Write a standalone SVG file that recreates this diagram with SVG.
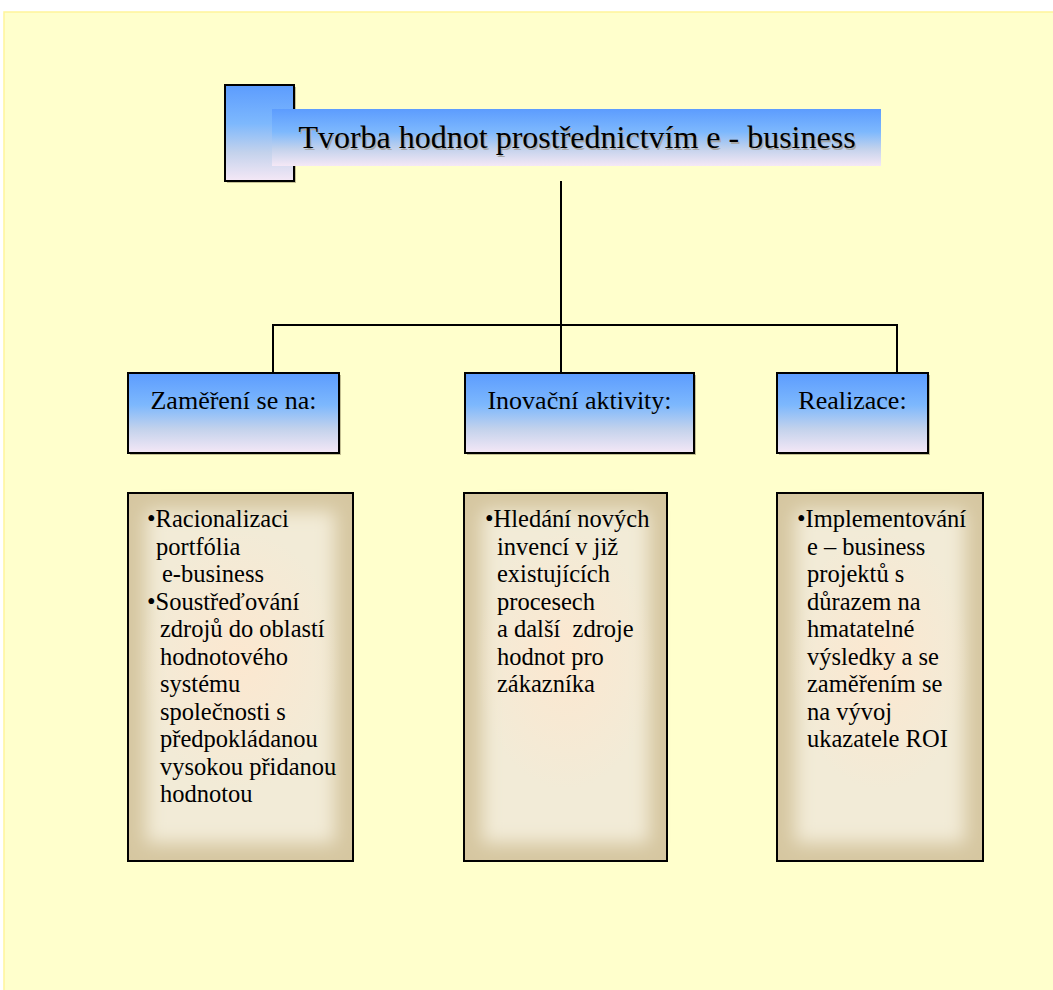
<svg xmlns="http://www.w3.org/2000/svg" width="1053" height="990" viewBox="0 0 1053 990">
  <style>
    .conn { stroke: #000; stroke-width: 2; fill: none; }
    .label { font-family: "Liberation Serif", "Times New Roman", serif; font-size: 26px; fill: #000; text-anchor: middle; }
    .title { font-family: "Liberation Serif", "Times New Roman", serif; font-size: 32px; fill: #000; text-anchor: middle; }
    .title-shadow { font-family: "Liberation Serif", "Times New Roman", serif; font-size: 32px; fill: #a8a8a8; text-anchor: middle; }
    .body { font-family: "Liberation Serif", "Times New Roman", serif; font-size: 24.5px; fill: #000; }
    .head-box { fill: url(#blueGrad); stroke: #000; stroke-width: 2; }
    .shadow { fill: #c4c092; }
    .card-frame { fill: #d6c7a1; stroke: #000; stroke-width: 2; }
    .card-glow { fill: #f2ebd7; filter: url(#soft); }
    .card-core { fill: url(#peach); }
  </style>
  <defs>
    <linearGradient id="blueGrad" x1="0" y1="0" x2="0" y2="1">
      <stop offset="0" stop-color="#5c9cfe"/>
      <stop offset="0.4" stop-color="#7db8fd"/>
      <stop offset="0.7" stop-color="#c3d2ec"/>
      <stop offset="1" stop-color="#f5e8f6"/>
    </linearGradient>
    <radialGradient id="peach" cx="0.5" cy="0.5" r="0.5">
      <stop offset="0" stop-color="#fde7cf" stop-opacity="0.9"/>
      <stop offset="1" stop-color="#fde7cf" stop-opacity="0"/>
    </radialGradient>
    <filter id="soft" x="-20%" y="-20%" width="140%" height="140%">
      <feGaussianBlur stdDeviation="9"/>
    </filter>
  </defs>

  <!-- page background -->
  <rect x="0" y="0" width="1053" height="990" fill="#ffffff"/>
  <rect x="4" y="12" width="1060" height="990" fill="#ffffcc" stroke="#fff59a" stroke-width="1.5"/>

  <!-- connectors -->
  <g id="connectors">
    <line class="conn" x1="561" y1="181" x2="561" y2="373"/>
    <polyline class="conn" points="273,373 273,325 897,325 897,373"/>
  </g>

  <!-- title -->
  <g id="title">
    <rect class="shadow" x="227" y="87" width="69" height="96"/>
    <rect class="head-box" x="225" y="85" width="69" height="96"/>
    <rect x="272" y="109" width="609" height="57" fill="url(#blueGrad)"/>
    <text class="title-shadow" x="578.5" y="149.5">Tvorba hodnot prostřednictvím e - business</text>
    <text class="title" x="577" y="148">Tvorba hodnot prostřednictvím e - business</text>
  </g>

  <!-- column headers -->
  <g id="head-focus">
    <rect class="shadow" x="130" y="375" width="211" height="80"/>
    <rect class="head-box" x="128" y="373" width="211" height="80"/>
    <text class="label" x="233.5" y="409">Zaměření se na:</text>
  </g>
  <g id="head-innovation">
    <rect class="shadow" x="467" y="375" width="229" height="80"/>
    <rect class="head-box" x="465" y="373" width="229" height="80"/>
    <text class="label" x="579.5" y="409">Inovační aktivity:</text>
  </g>
  <g id="head-realization">
    <rect class="shadow" x="779" y="375" width="151" height="80"/>
    <rect class="head-box" x="777" y="373" width="151" height="80"/>
    <text class="label" x="852.5" y="409">Realizace:</text>
  </g>

  <!-- detail cards -->
  <g id="card-focus">
    <rect class="card-frame" x="128" y="493" width="225" height="368"/>
    <rect class="card-glow" x="146" y="511" width="189" height="332"/>
    <ellipse class="card-core" cx="240.5" cy="660" rx="100" ry="130"/>
    <text class="body">
      <tspan x="147" y="527">•Racionalizaci</tspan>
      <tspan x="156" y="554.5">portfólia</tspan>
      <tspan x="162" y="582">e-business</tspan>
      <tspan x="147" y="609.5">•Soustřeďování</tspan>
      <tspan x="160" y="637">zdrojů do oblastí</tspan>
      <tspan x="160" y="664.5">hodnotového</tspan>
      <tspan x="160" y="692">systému</tspan>
      <tspan x="160" y="719.5">společnosti s</tspan>
      <tspan x="160" y="747">předpokládanou</tspan>
      <tspan x="160" y="774.5">vysokou přidanou</tspan>
      <tspan x="160" y="802">hodnotou</tspan>
    </text>
  </g>
  <g id="card-innovation">
    <rect class="card-frame" x="464" y="493" width="203" height="368"/>
    <rect class="card-glow" x="482" y="511" width="167" height="332"/>
    <ellipse class="card-core" cx="565.5" cy="660" rx="90" ry="130"/>
    <text class="body">
      <tspan x="485" y="527">•Hledání nových</tspan>
      <tspan x="497" y="554.5">invencí v již</tspan>
      <tspan x="497" y="582">existujících</tspan>
      <tspan x="497" y="609.5">procesech</tspan>
      <tspan x="497" y="637" xml:space="preserve">a další  zdroje</tspan>
      <tspan x="497" y="664.5">hodnot pro</tspan>
      <tspan x="497" y="692">zákazníka</tspan>
    </text>
  </g>
  <g id="card-realization">
    <rect class="card-frame" x="777" y="493" width="206" height="368"/>
    <rect class="card-glow" x="795" y="511" width="170" height="332"/>
    <ellipse class="card-core" cx="880" cy="660" rx="90" ry="130"/>
    <text class="body">
      <tspan x="797" y="527">•Implementování</tspan>
      <tspan x="807" y="554.5">e – business</tspan>
      <tspan x="807" y="582">projektů s</tspan>
      <tspan x="807" y="609.5">důrazem na</tspan>
      <tspan x="807" y="637">hmatatelné</tspan>
      <tspan x="807" y="664.5">výsledky a se</tspan>
      <tspan x="807" y="692">zaměřením se</tspan>
      <tspan x="807" y="719.5">na vývoj</tspan>
      <tspan x="807" y="747">ukazatele ROI</tspan>
    </text>
  </g>
</svg>
